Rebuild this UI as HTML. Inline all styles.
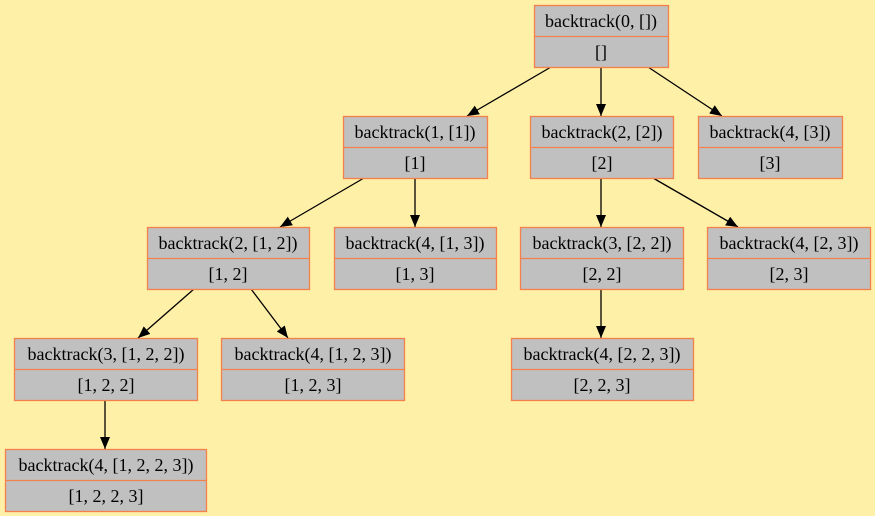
<!DOCTYPE html>
<html><head><meta charset="utf-8"><style>
html,body{margin:0;padding:0;background:#fff0a8;}
svg{display:block;}
text{font-family:"Liberation Serif",serif;font-size:18px;fill:#000;text-anchor:middle;}
</style></head><body>
<svg width="875" height="516" viewBox="0 0 875 516">
<defs><marker id="a" markerWidth="12" markerHeight="10" refX="12" refY="5" orient="auto" markerUnits="userSpaceOnUse"><path d="M0,0 L12,5 L0,10 z" fill="#000"/></marker></defs>
<rect width="875" height="516" fill="#fff0a8"/>
<g stroke="#000" stroke-width="1.3" marker-end="url(#a)">
<line x1="551" y1="67" x2="467" y2="116"/>
<line x1="601" y1="67" x2="601" y2="116"/>
<line x1="648" y1="67" x2="722" y2="116"/>
<line x1="364" y1="178" x2="280" y2="227"/>
<line x1="415" y1="178" x2="415" y2="227"/>
<line x1="601" y1="178" x2="601" y2="227"/>
<line x1="653" y1="178" x2="738" y2="227"/>
<line x1="194" y1="289" x2="138" y2="338"/>
<line x1="251" y1="289" x2="288" y2="338"/>
<line x1="601" y1="289" x2="601" y2="338"/>
<line x1="105" y1="400" x2="105" y2="449"/>
</g>
<g fill="#c0c0c0" stroke="#f4804c" stroke-width="1.3">
<rect x="534.5" y="5.5" width="134" height="62"/><line x1="534.5" y1="36.5" x2="668.5" y2="36.5"/>
<rect x="343.5" y="116.5" width="144" height="62"/><line x1="343.5" y1="147.5" x2="487.5" y2="147.5"/>
<rect x="530.5" y="116.5" width="143" height="62"/><line x1="530.5" y1="147.5" x2="673.5" y2="147.5"/>
<rect x="698.5" y="116.5" width="144" height="62"/><line x1="698.5" y1="147.5" x2="842.5" y2="147.5"/>
<rect x="147.5" y="227.5" width="162" height="62"/><line x1="147.5" y1="258.5" x2="309.5" y2="258.5"/>
<rect x="334.5" y="227.5" width="162" height="62"/><line x1="334.5" y1="258.5" x2="496.5" y2="258.5"/>
<rect x="520.5" y="227.5" width="163" height="62"/><line x1="520.5" y1="258.5" x2="683.5" y2="258.5"/>
<rect x="707.5" y="227.5" width="163" height="62"/><line x1="707.5" y1="258.5" x2="870.5" y2="258.5"/>
<rect x="14.5" y="338.5" width="183" height="62"/><line x1="14.5" y1="369.5" x2="197.5" y2="369.5"/>
<rect x="221.5" y="338.5" width="183" height="62"/><line x1="221.5" y1="369.5" x2="404.5" y2="369.5"/>
<rect x="511.5" y="338.5" width="182" height="62"/><line x1="511.5" y1="369.5" x2="693.5" y2="369.5"/>
<rect x="5.5" y="449.5" width="201" height="62"/><line x1="5.5" y1="480.5" x2="206.5" y2="480.5"/>
</g>
<g>
<text x="601" y="27">backtrack(0, [])</text><text x="601" y="58">[]</text>
<text x="415" y="138">backtrack(1, [1])</text><text x="415" y="169">[1]</text>
<text x="602" y="138">backtrack(2, [2])</text><text x="602" y="169">[2]</text>
<text x="770" y="138">backtrack(4, [3])</text><text x="770" y="169">[3]</text>
<text x="228" y="249">backtrack(2, [1, 2])</text><text x="228" y="280">[1, 2]</text>
<text x="415" y="249">backtrack(4, [1, 3])</text><text x="415" y="280">[1, 3]</text>
<text x="602" y="249">backtrack(3, [2, 2])</text><text x="602" y="280">[2, 2]</text>
<text x="789" y="249">backtrack(4, [2, 3])</text><text x="789" y="280">[2, 3]</text>
<text x="106" y="360">backtrack(3, [1, 2, 2])</text><text x="106" y="391">[1, 2, 2]</text>
<text x="313" y="360">backtrack(4, [1, 2, 3])</text><text x="313" y="391">[1, 2, 3]</text>
<text x="602" y="360">backtrack(4, [2, 2, 3])</text><text x="602" y="391">[2, 2, 3]</text>
<text x="106" y="471">backtrack(4, [1, 2, 2, 3])</text><text x="106" y="502">[1, 2, 2, 3]</text>
</g>
</svg>
</body></html>
